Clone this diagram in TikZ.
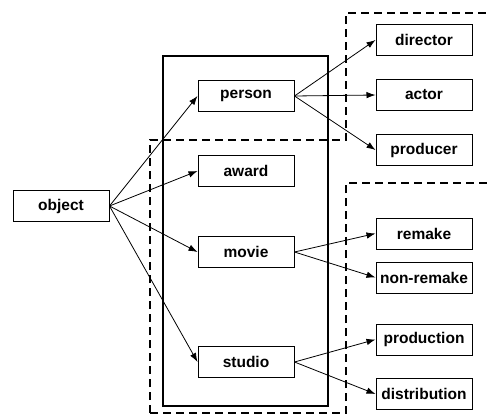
\documentclass[tikz,border=0pt]{standalone}
\usepackage{fontspec}
\setmainfont{Liberation Sans}
\usetikzlibrary{arrows.meta}
\begin{document}
\begin{tikzpicture}[x=1pt,y=-1pt,
    box/.style={draw,line width=1pt,minimum width=96pt,minimum height=31pt,inner sep=0pt,
      font=\fontsize{15.5}{18}\selectfont\bfseries},
    link/.style={line width=0.8pt,-{Latex[length=9pt,width=6.5pt]}},
    frame/.style={line width=2pt},
    group/.style={line width=2pt,dash pattern=on 8pt off 5pt}]
  \useasboundingbox (0,0) rectangle (487,417);

  % Drawing frames
  \draw [frame] (163,56) rectangle (328,406);%
  \draw [group] (150,413) -- (150,140) -- (346,140) -- (346,13) -- (488,13);%
  \draw [group] (150,413) -- (346,413) -- (346,183) -- (488,183);%

  % Placing boxes
  \node [box] (object) at (61,206) {object};%
  \node [box] (person) at (246,96) {person};%
  \node [box] (award) at (246,171) {award};%
  \node [box] (movie) at (246,252) {movie};%
  \node [box] (studio) at (246,362) {studio};%
  \node [box] (director) at (424,40) {director};%
  \node [box] (actor) at (424,95) {actor};%
  \node [box] (producer) at (424,150) {producer};%
  \node [box] (remake) at (424,233.5) {remake};%
  \node [box] (nonremake) at (424,277.5) {non-remake};%
  \node [box] (production) at (424,339.5) {production};%
  \node [box] (distribution) at (424,394) {distribution};%

  % Drawing links
  \foreach \t in {person,award,movie,studio}
    \draw [link] (object.east) -- (\t.west);%
  \foreach \t in {director,actor,producer}
    \draw [link] (person.east) -- (\t.west);%
  \foreach \t in {remake,nonremake}
    \draw [link] (movie.east) -- (\t.west);%
  \foreach \t in {production,distribution}
    \draw [link] (studio.east) -- (\t.west);%
\end{tikzpicture}
\end{document}
